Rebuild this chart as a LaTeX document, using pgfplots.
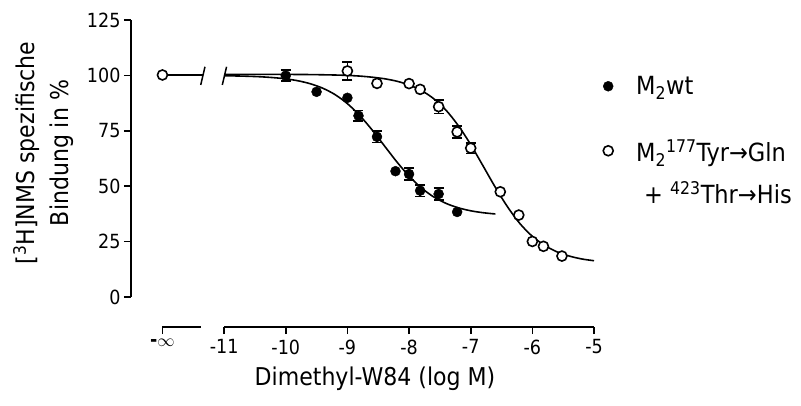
\documentclass[border=0pt]{standalone}
\usepackage{fontspec}
\setmainfont{DejaVu Sans Condensed}
\usepackage{pgfplots}
\pgfplotsset{compat=1.18}
\newcommand\tickfont{\fontsize{19.5}{22}\selectfont}
\newcommand\labfont{\fontsize{24.5}{34}\selectfont}
\newcommand\legfont{\fontsize{25}{34}\selectfont}

\begin{document}
\begin{tikzpicture}
\path[use as bounding box] (-131pt,-78pt) rectangle (670pt,327pt);
\begin{axis}[
  scale only axis, width=463pt, height=307pt,
  xmin=-12.51, xmax=-5, ymin=-13.5, ymax=125,
  axis line style={draw=none},
  clip=false,
  xtick={-12,-11,-10,-9,-8,-7,-6,-5},
  xticklabels={{\textbf{-}{\fontsize{16}{18}\selectfont$\infty$}},-11,-10,-9,-8,-7,-6,-5},
  ytick={0,25,50,75,100,125},
  xtick pos=bottom, ytick pos=left, tick align=outside,
  major tick length=7pt,
  tick style={line width=1.6pt, black},
  tick label style={font=\tickfont},
  xticklabel style={yshift=-2pt},
  /pgf/number format/assume math mode=true,
  legend image code/.code={\draw[#1] plot coordinates {(0pt,0pt)};},
  legend style={at={(axis description cs:1.0130,0.8300)}, anchor=north west,
    draw=none, fill=none, row sep=38pt, column sep=21pt, font=\legfont},
  legend cell align=left,
]
% axis lines
\draw[line width=1.6pt] (axis cs:-12.51,0) -- (axis cs:-12.51,125);
\draw[line width=1.6pt] (axis cs:-12,-13.5) -- (axis cs:-11.375,-13.5);
\draw[line width=1.6pt] (axis cs:-11,-13.5) -- (axis cs:-5,-13.5);
\draw[line width=1.6pt] (axis cs:-11.375,-13.5) ++(0,4pt) -- ++(0,-11pt);
\draw[line width=1.6pt] (axis cs:-11,-13.5) ++(0,4pt) -- ++(0,-4pt);
% break slashes
\draw[line width=1.5pt] (axis cs:-11.379,95.7) -- (axis cs:-11.310,103.9);
\draw[line width=1.5pt] (axis cs:-11.029,95.7) -- (axis cs:-10.960,103.9);

% fitted curves
\addplot[black, line width=1.6pt, smooth, forget plot] coordinates {
(-11,99.84) (-10.8,99.75) (-10.6,99.6) (-10.4,99.37) (-10.2,99.0) (-10,98.45)
(-9.8,97.57) (-9.6,96.23) (-9.4,94.23) (-9.2,91.34) (-9.0,87.26) (-8.8,81.92)
(-8.6,75.43) (-8.4,68.25) (-8.2,61.07) (-8.0,54.58) (-7.8,49.25) (-7.6,45.18)
(-7.4,42.27) (-7.2,40.27) (-7.0,38.93) (-6.8,38.06) (-6.6,37.49)};
\addplot[black, line width=1.6pt, smooth, forget plot] coordinates {
(-11,100.5) (-10.5,100.47) (-10,100.45) (-9.6,100.38) (-9.2,100.18) (-9.0,100.0)
(-8.8,99.7) (-8.6,99.2) (-8.4,98.5) (-8.2,97.4) (-8.0,95.7) (-7.8,93.2)
(-7.6,89.5) (-7.4,84.3) (-7.2,77.3) (-7.0,68.8) (-6.8,59.2) (-6.6,49.5)
(-6.4,40.6) (-6.2,33.1) (-6.0,27.4) (-5.8,23.3) (-5.6,20.4) (-5.4,18.5)
(-5.2,17.2) (-5.0,16.4)};
\addplot[black, line width=1.6pt, forget plot] coordinates {(-12,100.3) (-11.345,100.3)};

% error bars
\addplot[forget plot, only marks, mark=none, black,
  error bars/.cd, y dir=both, y explicit,
  error bar style={line width=1.6pt, black},
  error mark options={rotate=90, mark size=5pt, line width=1.6pt, black}]
  table[x=x, y=y, y error=e] {
x y e
-10.0 99.9 2.5
-8.82 81.8 2.4
-8.52 72.3 2.5
-8.0 55.5 2.8
-7.82 48.0 2.6
-7.52 46.5 2.6
};
\addplot[forget plot, only marks, mark=none, black,
  error bars/.cd, y dir=both, y explicit,
  error bar style={line width=1.6pt, black},
  error mark options={rotate=90, mark size=5pt, line width=1.6pt, black}]
  table[x=x, y=y, y error=e] {
x y e
-9.0 102.0 4.0
-7.52 85.9 3.0
-7.22 74.5 2.6
-7.0 67.2 2.4
};

% data points
\addplot[only marks, mark=*, mark size=5pt, black] table {
x y
-10.0 99.9
-9.5 92.6
-9.0 89.9
-8.82 81.8
-8.52 72.3
-8.22 56.8
-8.0 55.5
-7.82 48.0
-7.52 46.5
-7.22 38.4
};
\addlegendentry{M\textsubscript{2}wt}
\addplot[only marks, mark=*, mark size=5pt, mark options={fill=white, draw=black, line width=1.6pt}] table {
x y
-12.0 100.2
-9.0 102.0
-8.52 96.4
-8.0 96.3
-7.82 93.7
-7.52 85.9
-7.22 74.5
-7.0 67.2
-6.52 47.5
-6.22 37.0
-6.0 25.1
-5.82 22.9
-5.52 18.5
};
\addlegendentry{\raisebox{0pt}[\height][0pt]{\begin{tabular}[t]{@{}l@{}}M\textsubscript{2}\textsuperscript{177}Tyr→Gln\\[8pt]\hspace*{8pt}+ \textsuperscript{423}Thr→His\end{tabular}}}
\end{axis}
\node[rotate=90, align=center, font=\labfont] at (-87.5pt,174pt) {[\textsuperscript{3}H]NMS spezifische\\Bindung in \%};
\node[anchor=base, font=\labfont] at (244pt,-58pt) {Dimethyl-W84 (log M)};
\end{tikzpicture}
\end{document}
